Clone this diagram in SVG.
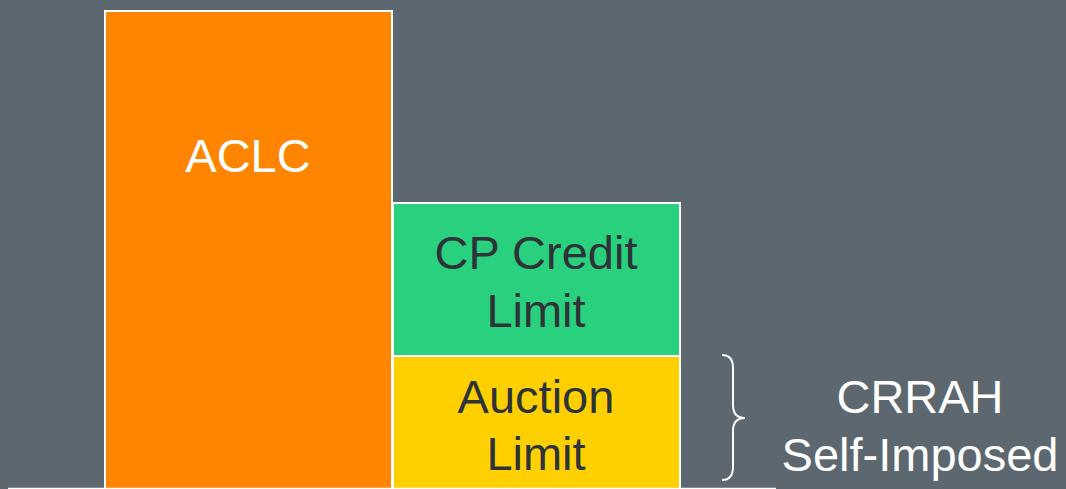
<svg xmlns="http://www.w3.org/2000/svg" width="1066" height="489" viewBox="0 0 1066 489">
<style>
.box{stroke:#ffffff;stroke-width:2}
.t{font-family:"Liberation Sans",Arial,sans-serif;font-size:47px;text-anchor:middle}
.w{fill:#ffffff}
.d{fill:#2d3338}
</style>
<rect x="0" y="0" width="1066" height="489" fill="#5c6770"/>
<g id="aclc">
<rect class="box" x="105" y="11" width="287" height="490" fill="#ff8500"/>
<text class="t w" x="248" y="172">ACLC</text>
</g>
<g id="cp-credit-limit">
<rect class="box" x="393" y="203" width="287" height="153" fill="#29d07e"/>
<text class="t d" x="536" y="269">CP Credit</text>
<text class="t d" x="536" y="327">Limit</text>
</g>
<g id="auction-limit">
<rect class="box" x="393" y="356" width="287" height="150" fill="#ffd000"/>
<text class="t d" x="536" y="413">Auction</text>
<text class="t d" x="536" y="470">Limit</text>
</g>
<g id="connectors">
<line x1="8" y1="488.5" x2="776" y2="488.5" stroke="#ffffff" stroke-width="1.5"/>
<path d="M722,355 Q733,355 733,368 L733,405 Q733,418 745,418 Q733,418 733,431 L733,467 Q733,480 722,480" fill="none" stroke="#ffffff" stroke-width="2"/>
</g>
<g id="crrah">
<text class="t w" x="920" y="413">CRRAH</text>
<text class="t w" x="920" y="471">Self-Imposed</text>
</g>
</svg>
